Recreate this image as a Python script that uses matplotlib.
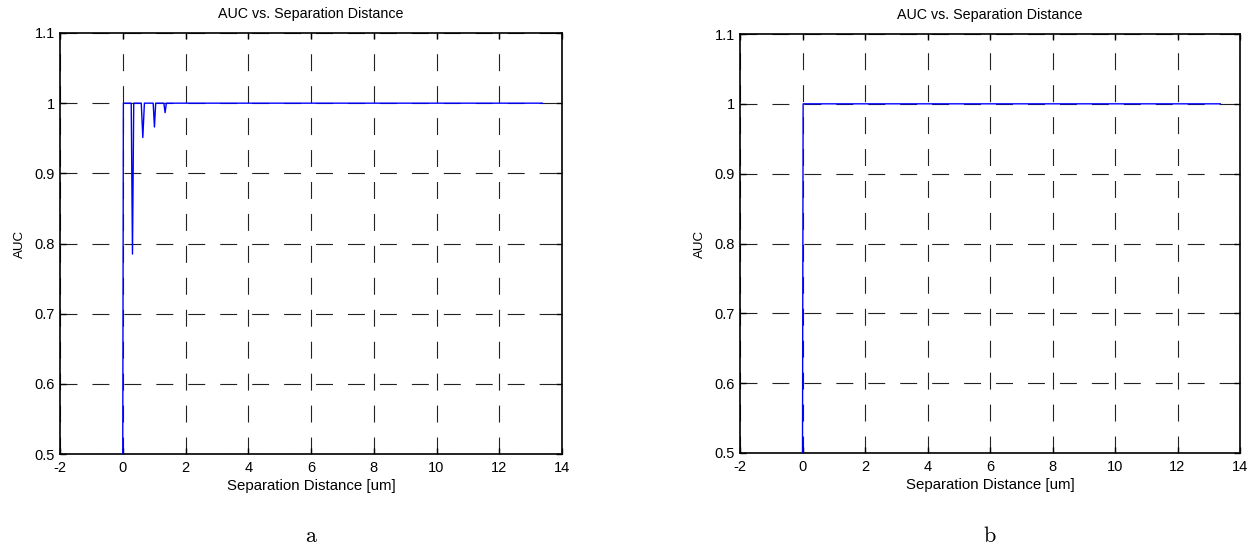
import matplotlib
matplotlib.use("Agg")
import matplotlib.pyplot as plt
from matplotlib.ticker import FixedLocator

plt.rcParams['font.family'] = ['Liberation Sans', 'DejaVu Sans']
plt.rcParams['mathtext.fontset'] = 'cm'
plt.rcParams['lines.scale_dashes'] = False

# Data
left_x = [0.0, 0.02, 0.27, 0.31, 0.35, 0.59, 0.64, 0.69, 0.97, 1.01, 1.05, 1.31, 1.35, 1.39, 13.37]
left_auc = [0.5, 1.0, 1.0, 0.785, 1.0, 1.0, 0.951, 1.0, 1.0, 0.966, 1.0, 1.0, 0.9865, 1.0, 1.0]
right_x = [0.0, 0.02, 13.37]
right_auc = [0.5, 1.0, 1.0]

x_ticks = [-2, 0, 2, 4, 6, 8, 10, 12, 14]
y_ticks = [0.5, 0.6, 0.7, 0.8, 0.9, 1.0, 1.1]
y_tick_labels = ['0.5', '0.6', '0.7', '0.8', '0.9', '1', '1.1']
title = 'AUC vs. Separation Distance'
xlabel = 'Separation Distance [um]'
ylabel = 'AUC'
panel_labels = ['a', 'b']

fig = plt.figure(figsize=(12.53, 5.46), dpi=100)
W, H = 1253, 546
boxes = [(60, 33, 562, 454), (740, 34, 1240, 453)]
data = [(left_x, left_auc), (right_x, right_auc)]

for (l, t, r, b), (xs, ys), lab in zip(boxes, data, panel_labels):
    ax = fig.add_axes([l / W, 1 - b / H, (r - l) / W, (b - t) / H])
    ax.plot(xs, ys, color='#0000ff', lw=1.0, zorder=3)
    ax.set_xlim(-2, 14)
    ax.set_ylim(0.5, 1.1)
    ax.xaxis.set_major_locator(FixedLocator(x_ticks))
    ax.set_xticklabels([str(v) for v in x_ticks])
    ax.yaxis.set_major_locator(FixedLocator(y_ticks))
    ax.set_yticklabels(y_tick_labels)
    ax.grid(True, color='#222222', lw=0.8, linestyle=(0, (12.2, 10.8)))
    ax.tick_params(direction='in', length=4, width=1, labelsize=10.5,
                   top=True, right=True)
    ax.tick_params(axis='x', pad=5)
    ax.tick_params(axis='y', pad=3.5)
    for s in ax.spines.values():
        s.set_linewidth(1.2)
    ax.set_title(title, fontsize=10.3, pad=11)
    ax.set_xlabel(xlabel, fontsize=10.8, labelpad=3)
    ax.set_ylabel(ylabel, fontsize=9.6, labelpad=6)
    cx = (l + r) / 2 / W
    fig.text(cx, 1 - 537 / H, r'$\mathrm{%s}$' % lab, ha='center', va='center', fontsize=16)

fig.savefig('out.png', dpi=100)
